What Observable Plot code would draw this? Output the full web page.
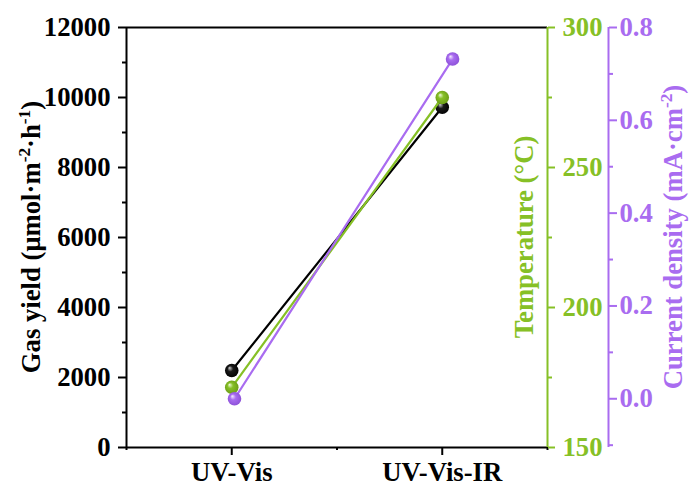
<!DOCTYPE html>
<html><head><meta charset="utf-8">
<script src="https://cdn.jsdelivr.net/npm/d3@7"></script>
<script src="https://cdn.jsdelivr.net/npm/@observablehq/plot@0.6"></script>
<style>
body{margin:0;background:#fff}
#chart svg{font-family:"Liberation Serif","Times New Roman",serif;font-weight:bold}
</style>
</head><body><div id="chart"></div>
<script>
// ---- data ----
const categories = ["UV-Vis", "UV-Vis-IR"];
const categoryPos = [1, 2];
const gasYield = [2200, 9720];
const temperature = [171.5, 275];
const currentDensity = [0.0, 0.732];
const currentPos = [1.013, 2.049];

// ---- axes ticks ----
const gasTicks = [0, 2000, 4000, 6000, 8000, 10000, 12000];
const gasMinor = [1000, 3000, 5000, 7000, 9000, 11000];
const tempTicks = [150, 200, 250, 300];
const tempMinor = [175, 225, 275];
const curTicks = [0.0, 0.2, 0.4, 0.6, 0.8];
const curMinor = [-0.1, 0.1, 0.3, 0.5, 0.7];
const gasDomain = [0, 12000];
const tempDomain = [150, 300];
const curDomain = [-0.105, 0.8];
const xDomain = [0.5, 2.5];

const BLACK = "#000000", GREEN = "#86c026", PURPLE = "#a96cf0";
const FS = 26.7;

const toGas = (v, dom) => (v - dom[0]) / (dom[1] - dom[0]) * (gasDomain[1] - gasDomain[0]) + gasDomain[0];
const fromGas = (g, dom) => (g - gasDomain[0]) / (gasDomain[1] - gasDomain[0]) * (dom[1] - dom[0]) + dom[0];

const gasRows = categoryPos.map((x, i) => ({x, y: gasYield[i]}));
const tempRows = categoryPos.map((x, i) => ({x, y: toGas(temperature[i], tempDomain)}));
const curRows = currentPos.map((x, i) => ({x, y: toGas(currentDensity[i], curDomain)}));

function defsMark() {
  const defs = d3.create("svg:defs");
  const balls = [["ballBlack", "#d0d0d0", "#1a1a1a", "#000000"],
                 ["ballGreen", "#f2fbde", GREEN, "#6a9a16"],
                 ["ballPurple", "#f6eeff", PURPLE, "#8a4fd6"]];
  for (const [id, hi, mid, lo] of balls) {
    const g = defs.append("radialGradient").attr("id", id)
      .attr("cx", "0.5").attr("cy", "0.5").attr("r", "0.55").attr("fx", "0.33").attr("fy", "0.3");
    g.append("stop").attr("offset", "0%").attr("stop-color", hi);
    g.append("stop").attr("offset", "38%").attr("stop-color", mid);
    g.append("stop").attr("offset", "100%").attr("stop-color", lo);
  }
  return defs.node();
}

function titleMark(index, scales, values, dims) {
  const g = d3.create("svg:g").attr("font-size", FS).attr("font-weight", "bold");
  const cy = dims.marginTop + (dims.height - dims.marginTop - dims.marginBottom) / 2;
  const right = dims.width - dims.marginRight;
  const add = (x, parts, color) => {
    const t = g.append("text").attr("transform", `translate(${x},${cy}) rotate(-90)`)
      .attr("text-anchor", "middle").attr("fill", color);
    let raised = false;
    for (const [s, sup] of parts) {
      const ts = t.append("tspan").text(s);
      if (sup && !raised) { ts.attr("font-size", FS * 0.65).attr("dy", -FS * 0.38); raised = true; }
      else if (!sup && raised) { ts.attr("dy", FS * 0.38); raised = false; }
      else if (sup) ts.attr("font-size", FS * 0.65);
    }
  };
  add(dims.marginLeft - 86, [["Gas yield (μmol·m"], ["-2", 1], ["·h"], ["-1", 1], [")"]], BLACK);
  add(right - 14, [["Temperature (°C)"]], GREEN);
  add(right + 135, [["Current density (mA·cm"], ["-2", 1], [")"]], PURPLE);
  return g.node();
}

const plot = Plot.plot({
  width: 691, height: 488,
  marginTop: 27, marginBottom: 41, marginLeft: 126, marginRight: 144,
  x: {domain: xDomain, axis: null},
  y: {domain: gasDomain, axis: null},
  style: {fontSize: FS + "px", fontWeight: "bold", background: "#fff", overflow: "visible",
          fontFamily: "'Liberation Serif','Times New Roman',serif"},
  marks: [
    defsMark,
    // left axis
    Plot.axisY(gasMinor, {anchor: "left", tickSize: 4, strokeWidth: 2, tickFormat: () => "", label: null}),
    Plot.axisY(gasTicks, {anchor: "left", tickSize: 8, tickPadding: 8, strokeWidth: 2, label: null, fill: BLACK,
      tickFormat: d3.format("d")}),
    // bottom axis
    Plot.axisX([0.5, 1.5, 2.5], {anchor: "bottom", tickSize: 3, strokeWidth: 2, tickFormat: () => "", label: null}),
    Plot.axisX(categoryPos, {anchor: "bottom", tickSize: 8, tickPadding: 7, strokeWidth: 2, label: null,
      tickFormat: d => categories[categoryPos.indexOf(d)]}),
    // frame
    Plot.ruleX([xDomain[0]], {stroke: BLACK, strokeWidth: 2}),
    Plot.ruleY([gasDomain[0], gasDomain[1]], {stroke: BLACK, strokeWidth: 2}),
    // temperature axis
    Plot.ruleX([xDomain[1]], {stroke: GREEN, strokeWidth: 2}),
    Plot.axisY(tempMinor.map(t => toGas(t, tempDomain)), {anchor: "right", stroke: GREEN, tickSize: 4, strokeWidth: 2, tickFormat: () => "", label: null}),
    Plot.axisY(tempTicks.map(t => toGas(t, tempDomain)), {anchor: "right", stroke: GREEN, fill: GREEN, tickSize: 7, tickPadding: 8, strokeWidth: 2, label: null,
      tickFormat: d => String(Math.round(fromGas(d, tempDomain)))}),
    // current density axis
    Plot.ruleX([xDomain[1]], {dx: 61, stroke: PURPLE, strokeWidth: 2}),
    Plot.axisY(curMinor.map(c => toGas(c, curDomain)), {anchor: "right", dx: 61, stroke: PURPLE, tickSize: 4, strokeWidth: 2, tickFormat: () => "", label: null}),
    Plot.axisY(curTicks.map(c => toGas(c, curDomain)), {anchor: "right", dx: 61, stroke: PURPLE, fill: PURPLE, tickSize: 8, tickPadding: 3, strokeWidth: 2, label: null,
      tickFormat: d => d3.format(".1f")(Math.abs(fromGas(d, curDomain)) < 1e-9 ? 0 : fromGas(d, curDomain))}),
    // series
    Plot.line(gasRows, {x: "x", y: "y", stroke: BLACK, strokeWidth: 2.2}),
    Plot.dot(gasRows, {x: "x", y: "y", r: 6.8, fill: "url(#ballBlack)", stroke: "none"}),
    Plot.line(tempRows, {x: "x", y: "y", stroke: GREEN, strokeWidth: 2.2}),
    Plot.dot(tempRows, {x: "x", y: "y", r: 6.8, fill: "url(#ballGreen)", stroke: "none"}),
    Plot.line(curRows, {x: "x", y: "y", stroke: PURPLE, strokeWidth: 2.2}),
    Plot.dot(curRows, {x: "x", y: "y", r: 6.8, fill: "url(#ballPurple)", stroke: "none"}),
    titleMark
  ]
});
document.getElementById("chart").appendChild(plot);
</script>
</body></html>
